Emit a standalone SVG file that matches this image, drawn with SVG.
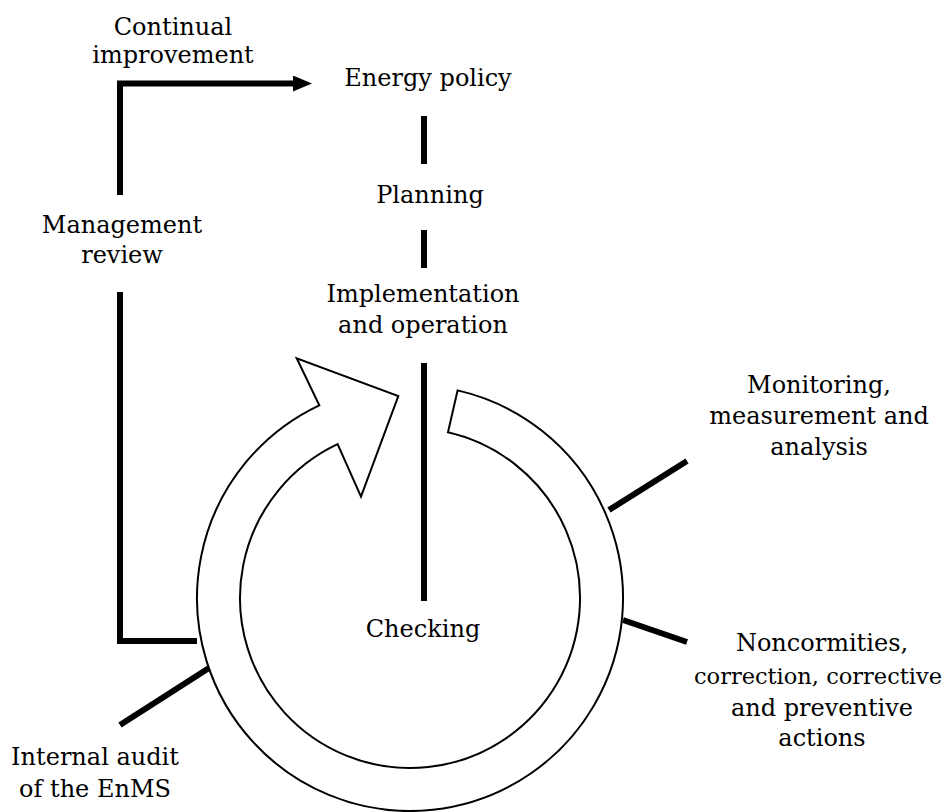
<svg xmlns="http://www.w3.org/2000/svg" width="952" height="812" viewBox="0 0 952 812">
  <style>
    text { font-family: "DejaVu Serif", "Liberation Serif", serif; font-size: 24px; fill: #000; text-anchor: middle; }
    .conn { stroke: #000; stroke-width: 6; fill: none; stroke-linejoin: miter; }
    .ring { stroke: #000; stroke-width: 2; fill: #fff; stroke-linejoin: miter; }
  </style>
  <defs>
    <marker id="arrow" markerUnits="userSpaceOnUse" markerWidth="20" markerHeight="18" refX="0" refY="8" orient="auto">
      <path d="M0,0 L19,8 L0,16 Z" fill="#000"/>
    </marker>
  </defs>
  <rect width="952" height="812" fill="#fff"/>

  <g id="cycle-ring">
    <path class="ring" d="M457.6,390.4 A213,213 0 1 1 319.3,405.3 L296.7,358.3 L398.3,396 L361,496.7 L337.6,444.2 A170,170 0 1 0 448,432.3 Z"/>
  </g>

  <g id="connectors">
    <path class="conn" d="M120,195 V83.5 H293" marker-end="url(#arrow)"/>
    <path class="conn" d="M120,292 V641 H197"/>
    <line class="conn" x1="424" y1="116" x2="424" y2="164"/>
    <line class="conn" x1="424" y1="230" x2="424" y2="268"/>
    <line class="conn" x1="424" y1="363" x2="424" y2="601"/>
    <line class="conn" x1="609" y1="510" x2="687" y2="461"/>
    <line class="conn" x1="623" y1="620" x2="687" y2="642"/>
    <line class="conn" x1="209" y1="668" x2="120" y2="725"/>
  </g>

  <g id="continual-improvement">
    <text x="173" y="35">Continual</text>
    <text x="173" y="63">improvement</text>
  </g>
  <g id="energy-policy">
    <text x="428" y="86">Energy policy</text>
  </g>
  <g id="planning">
    <text x="430" y="203">Planning</text>
  </g>
  <g id="implementation">
    <text x="423" y="302">Implementation</text>
    <text x="423" y="333">and operation</text>
  </g>
  <g id="checking">
    <text x="423" y="637">Checking</text>
  </g>
  <g id="management-review">
    <text x="122" y="233">Management</text>
    <text x="122" y="263">review</text>
  </g>
  <g id="monitoring">
    <text x="819" y="393">Monitoring,</text>
    <text x="819" y="424">measurement and</text>
    <text x="819" y="455">analysis</text>
  </g>
  <g id="nonconformities">
    <text x="822" y="651">Noncormities,</text>
    <text x="818" y="684" style="font-size:22.5px">correction, corrective</text>
    <text x="822" y="716">and preventive</text>
    <text x="822" y="746">actions</text>
  </g>
  <g id="internal-audit">
    <text x="95" y="765">Internal audit</text>
    <text x="95" y="797">of the EnMS</text>
  </g>
</svg>
